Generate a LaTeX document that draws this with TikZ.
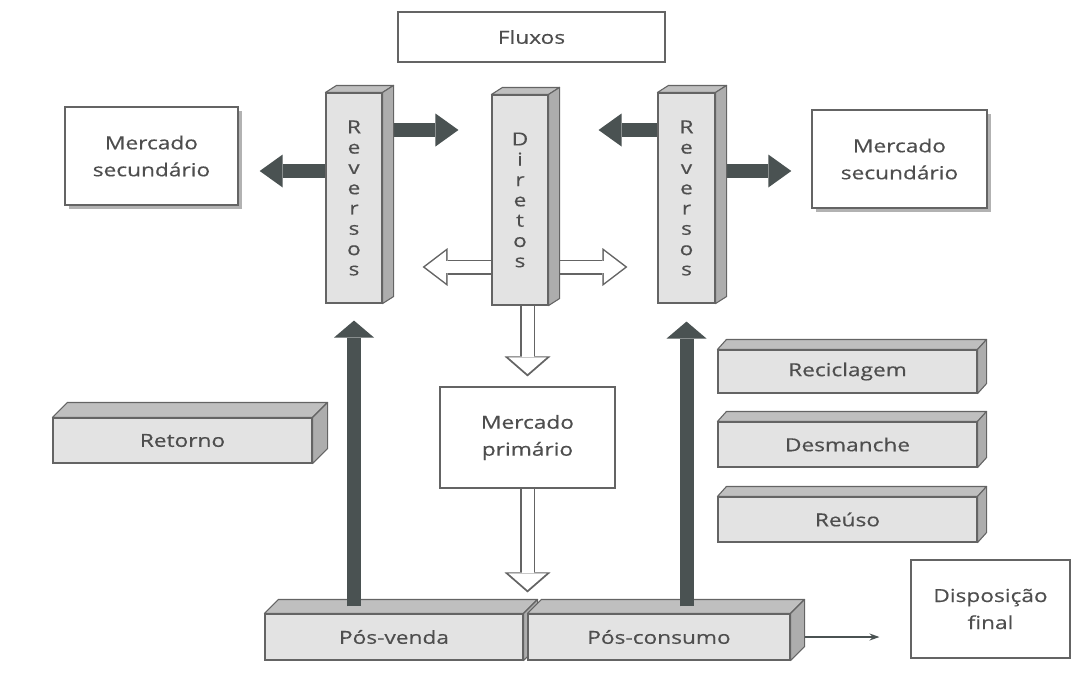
\documentclass[tikz,border=0pt]{standalone}
\usepackage{fontspec}
\setmainfont{Open Sans}[FakeStretch=1.26, FakeBold=0.4]
\usetikzlibrary{arrows.meta, calc, shadows, backgrounds}

\definecolor{arrowgray}{RGB}{74,82,82}
\definecolor{labelgray}{RGB}{78,78,78}
\definecolor{edgegray}{RGB}{100,100,100}

\tikzset{
	every node/.style={text=labelgray, font=\fontsize{18}{27}\selectfont}, % all labels
	box/.style={draw=edgegray, line width=1.4pt, fill=white, align=center, inner sep=0pt},
	shadowbox/.style={box, drop shadow={shadow xshift=4pt, shadow yshift=-4pt, fill=gray!60, opacity=1}},
	block/.style={draw=edgegray, line width=1.1pt, fill=gray!22, inner sep=0pt, align=center}, % front of a 3D bar
	upright/.style={block, minimum width=56pt, minimum height=210pt, font=\fontsize{18}{20.3}\selectfont},
	flat/.style={block, minimum width=259pt, minimum height=45pt},
	topface/.style={draw=edgegray, line width=1.1pt, fill=gray!50, line join=round},
	sideface/.style={draw=edgegray, line width=1.1pt, fill=gray!64, line join=round},
	darkarrow/.style 2 args={draw=arrowgray, line width=14pt, -{Triangle[length=#1, width=#2, line width=0pt]}},
	hollowout h/.style={draw=edgegray, line width=15pt, -{Triangle[length=25pt, width=38pt, line width=0pt]}},
	hollowin h/.style={draw=white, line width=12pt, -{Triangle[length=21pt, width=32pt, line width=0pt]}},
	hollowout v/.style={draw=edgegray, line width=15pt, -{Triangle[length=20pt, width=46pt, line width=0pt]}},
	hollowin v/.style={draw=white, line width=12pt, -{Triangle[length=16.5pt, width=38pt, line width=0pt]}},
	thinarrow/.style={draw=arrowgray, line width=1.4pt, -{Stealth[length=10pt, width=7pt]}},
}

% top and side faces of a bar: node, depth x, depth y
\newcommand{\blockdepth}[3]{%
	\draw[topface] (#1.north west) -- ++(#2,-#3) -- ($(#1.north east)+(#2,-#3)$) -- (#1.north east) -- cycle;
	\draw[sideface] (#1.north east) -- ++(#2,-#3) -- ($(#1.south east)+(#2,-#3)$) -- (#1.south east) -- cycle;
}
% white arrow with a grey outline: direction, from, to, gap
\newcommand{\hollowlink}[4]{%
	\draw[hollowout #1, shorten >=#4] (#2) -- (#3);
	\draw[hollowin #1, shorten >=#4+2.5pt] (#2) -- (#3);
}

\begin{document}
\begin{tikzpicture}[x=1pt, y=-1pt]
	\useasboundingbox (0,0) rectangle (1078,678);

	% boxes
	\node[box, minimum width=267pt, minimum height=50pt] (flux) at (531.5,37) {Fluxos};
	\node[shadowbox, minimum width=173pt, minimum height=98pt] (msl) at (151.5,156) {Mercado\\secundário};
	\node[shadowbox, minimum width=175pt, minimum height=98pt] (msr) at (899.5,159) {Mercado\\secundário};
	\node[box, line width=1.1pt, minimum width=175pt, minimum height=101pt] (mp) at (527.5,437.5) {Mercado\\primário};
	\node[box, line width=1.1pt, minimum width=159pt, minimum height=98pt] (disp) at (990.5,609) {Disposição\\final};

	% vertical bars
	\node[upright] (rev1) at (354,198) {R\\e\\v\\e\\r\\s\\o\\s};
	\blockdepth{rev1}{11}{7}
	\node[upright] (dir) at (520,200) {D\\i\\r\\e\\t\\o\\s};
	\blockdepth{dir}{11}{7}
	\node[upright, minimum width=57pt] (rev2) at (686.5,198) {R\\e\\v\\e\\r\\s\\o\\s};
	\blockdepth{rev2}{11}{7}

	% flat bars
	\node[flat] (ret) at (182.5,440.5) {Retorno};
	\blockdepth{ret}{15}{15}
	\node[flat, minimum height=43pt] (rec) at (847.5,371.5) {Reciclagem};
	\blockdepth{rec}{9}{10}
	\node[flat] (des) at (847.5,444.5) {Desmanche};
	\blockdepth{des}{9}{10}
	\node[flat] (reu) at (847.5,519.5) {Reúso};
	\blockdepth{reu}{9}{10}
	\node[flat, minimum width=258pt, minimum height=46pt] (posv) at (394,637) {Pós-venda};
	\blockdepth{posv}{14}{14}
	\node[flat, minimum width=262pt, minimum height=46pt] (posc) at (659,637) {Pós-consumo};
	\blockdepth{posc}{14}{14}

	% arrows behind the bars
	\coordinate (hiLevel) at (0,130);
	\coordinate (loLevel) at (0,171);
	\coordinate (midLevel) at (0,267);
	\begin{pgfonlayer}{background}
		\draw[darkarrow={23pt}{33pt}, shorten >=33pt] (rev1.east |- hiLevel) -- (dir.west |- hiLevel);
		\draw[darkarrow={23pt}{33pt}, shorten >=50pt] (rev2.west |- hiLevel) -- (dir.east |- hiLevel);
		\draw[darkarrow={23pt}{33pt}, shorten >=21pt] (rev1.west |- loLevel) -- (msl.east |- loLevel);
		\draw[darkarrow={23pt}{33pt}, shorten >=20pt] (rev2.east |- loLevel) -- (msr.west |- loLevel);
		\hollowlink{h}{dir.west |- midLevel}{rev1.east |- midLevel}{40pt}
		\hollowlink{h}{dir.east |- midLevel}{rev2.west |- midLevel}{30pt}
		\hollowlink{v}{mp.north |- dir.south}{mp.north}{10pt}
		\hollowlink{v}{mp.south}{mp.south |- posv.north}{21pt}
		\draw[thinarrow, shorten >=31pt] (posc.east) -- (disp.west |- posc.east);
	\end{pgfonlayer}

	% arrows standing on the bottom bars
	\draw[darkarrow={17pt}{40pt}, shorten >=17pt] ($(rev1.south |- posv.north)+(0,-7)$) -- (rev1.south);
	\draw[darkarrow={17pt}{40pt}, shorten >=18pt] ($(rev2.south |- posc.north)+(0,-7)$) -- (rev2.south);
\end{tikzpicture}
\end{document}
